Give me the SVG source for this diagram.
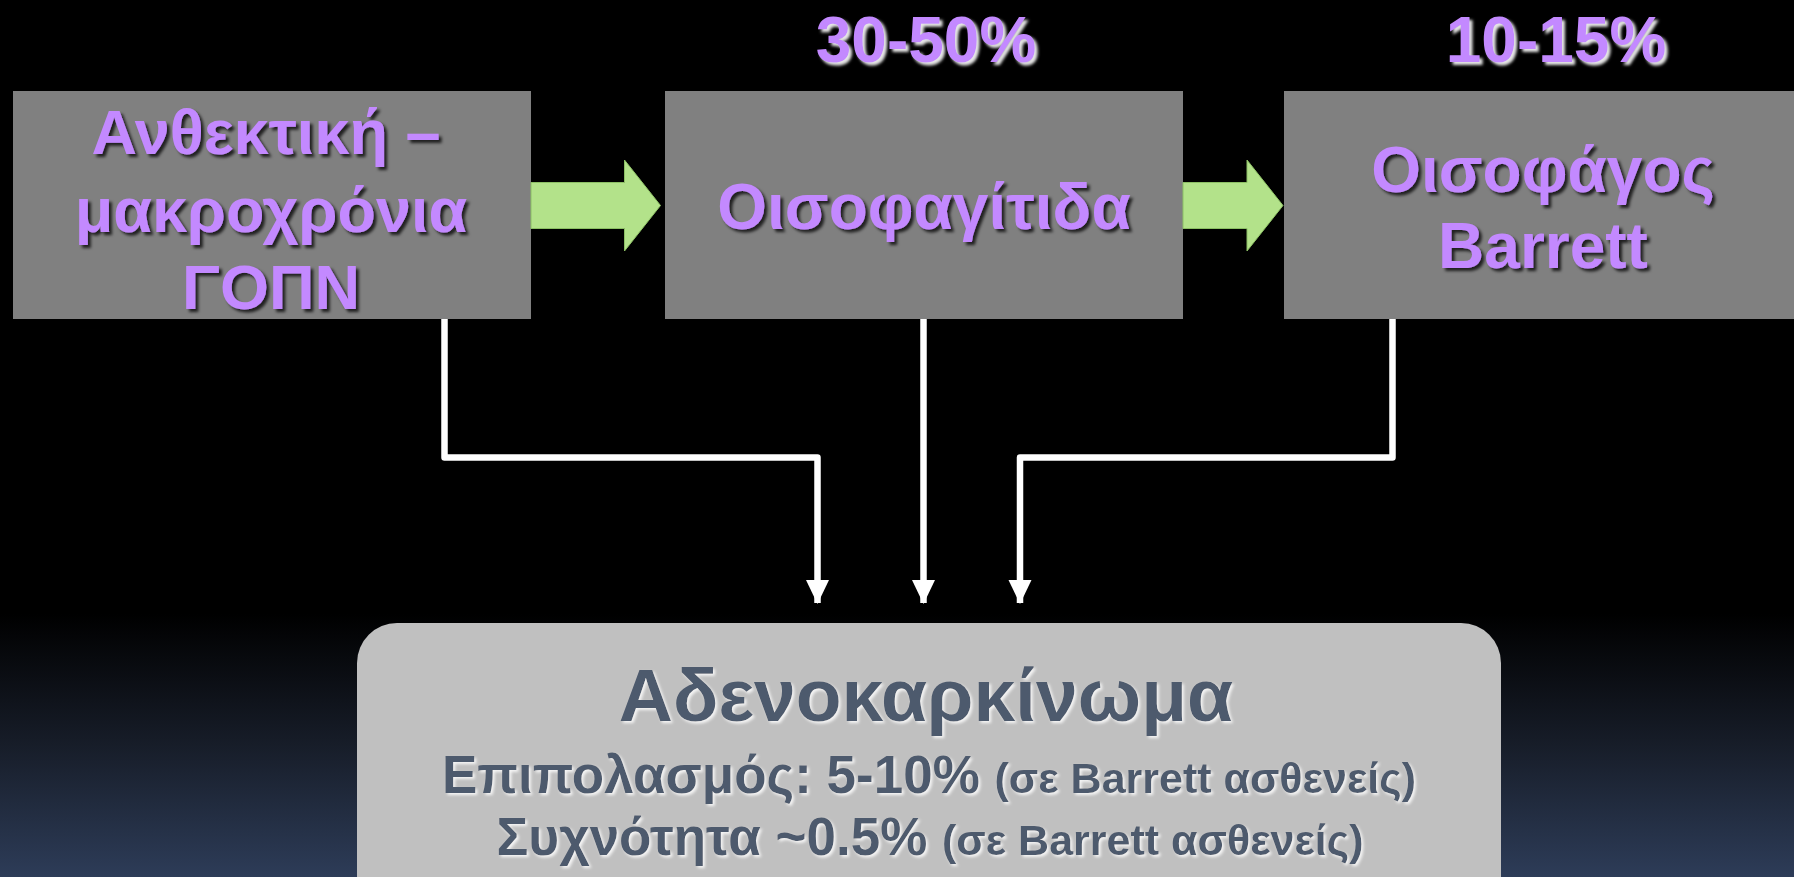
<svg xmlns="http://www.w3.org/2000/svg" width="1794" height="877" viewBox="0 0 1794 877">
<defs>
<linearGradient id="bg" x1="0" y1="0" x2="0" y2="877" gradientUnits="userSpaceOnUse">
<stop offset="0" stop-color="#000"/>
<stop offset="0.7" stop-color="#000"/>
<stop offset="0.85" stop-color="#171d29"/>
<stop offset="1" stop-color="#2d3c58"/>
</linearGradient>
<filter id="sh" x="-10%" y="-10%" width="120%" height="130%">
<feDropShadow dx="3" dy="3" stdDeviation="1.5" flood-color="#000" flood-opacity="0.75"/>
</filter>
<filter id="wsh" x="-10%" y="-10%" width="120%" height="130%">
<feDropShadow dx="3" dy="3" stdDeviation="1.5" flood-color="#fff" flood-opacity="0.9"/>
</filter>
<filter id="lsh" x="-10%" y="-10%" width="120%" height="130%">
<feDropShadow dx="2" dy="2" stdDeviation="1.5" flood-color="#fff" flood-opacity="0.85"/>
</filter>
<marker id="ah" markerUnits="userSpaceOnUse" markerWidth="24" markerHeight="25" refX="24" refY="12" orient="auto" viewBox="0 0 25 24">
<path d="M0,0 L25,12 L0,24 Z" fill="#fff"/>
</marker>
</defs>
<style>
.box{fill:#808080}
.pt{font-family:"Liberation Sans",Arial,sans-serif;font-weight:bold;fill:#c389ff;text-anchor:middle}
.dk{font-family:"Liberation Sans",Arial,sans-serif;font-weight:bold;fill:#4e5a6d;text-anchor:middle}
.gar{fill:#b3e28a;stroke:#8cbf64;stroke-width:1}
.con{fill:none;stroke:#fff;stroke-width:6.5;stroke-linejoin:round}
</style>
<rect x="0" y="0" width="1794" height="877" fill="url(#bg)"/>

<g id="label-30-50">
<text class="pt" x="926" y="62" font-size="64" filter="url(#wsh)">30-50%</text>
</g>
<g id="label-10-15">
<text class="pt" x="1556" y="62" font-size="64" filter="url(#wsh)">10-15%</text>
</g>

<g id="node-gerd">
<rect class="box" x="13" y="91" width="518" height="228"/>
<text class="pt" font-size="63" filter="url(#sh)"><tspan x="266" y="154">Ανθεκτική –</tspan><tspan x="271" y="232">μακροχρόνια</tspan><tspan x="271" y="309">ΓΟΠΝ</tspan></text>
</g>

<g id="node-esophagitis">
<rect class="box" x="665" y="91" width="518" height="228"/>
<text class="pt" x="924" y="229" font-size="64" filter="url(#sh)">Οισοφαγίτιδα</text>
</g>

<g id="node-barrett">
<rect class="box" x="1284" y="91" width="518" height="228"/>
<text class="pt" font-size="64" filter="url(#sh)"><tspan x="1543" y="192">Οισοφάγος</tspan><tspan x="1543" y="268">Barrett</tspan></text>
</g>

<g id="node-adeno">
<rect x="357" y="623" width="1144" height="300" rx="40" ry="40" fill="#c0c0c0"/>
<text class="dk" x="926" y="721" font-size="75" filter="url(#lsh)">Αδενοκαρκίνωμα</text>
<text class="dk" x="929" y="793" font-size="53" filter="url(#lsh)">Επιπολασμός: 5-10% <tspan font-size="43">(σε Barrett ασθενείς)</tspan></text>
<text class="dk" x="930" y="855" font-size="53" filter="url(#lsh)">Συχνότητα ~0.5% <tspan font-size="43">(σε Barrett ασθενείς)</tspan></text>
</g>

<g id="connectors">
<path class="gar" d="M531,182.5 L624.5,182.5 L624.5,160 L660.5,205.5 L624.5,251 L624.5,228.5 L531,228.5 Z"/>
<path class="gar" d="M1183,182.5 L1247,182.5 L1247,160 L1283,205.5 L1247,251 L1247,228.5 L1183,228.5 Z"/>
<path class="con" d="M444.5,319 L444.5,457.5 L817.5,457.5 L817.5,603" marker-end="url(#ah)"/>
<path class="con" d="M923.5,319 L923.5,603" marker-end="url(#ah)"/>
<path class="con" d="M1392.5,319 L1392.5,457.5 L1020,457.5 L1020,603" marker-end="url(#ah)"/>
</g>
</svg>
